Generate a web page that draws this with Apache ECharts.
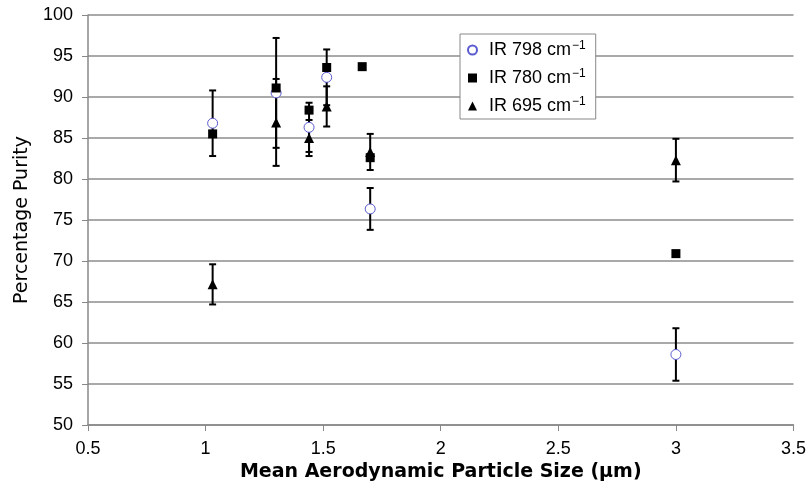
<!DOCTYPE html>
<html>
<head>
    <meta charset="UTF-8">
    <title>Percentage Purity</title>
    <script src="https://cdn.jsdelivr.net/npm/echarts@6/dist/echarts.min.js"></script>
    <style>
        html, body { margin: 0; padding: 0; background: #fff; }
        #main { width: 809px; height: 493px; }
    </style>
</head>
<body>
    <div id="main"></div>
    <script>
        // values
        var circleX = [1.03, 1.30, 1.44, 1.515, 1.70, 3.0];
        var circleY = [86.8, 90.5, 86.3, 92.4, 76.35, 58.6];
        var circleErr = [4.0, 6.7, 3.0, 3.4, 2.55, 3.2];

        var squareX = [1.03, 1.30, 1.44, 1.515, 1.666, 1.70, 3.0];
        var squareY = [85.5, 91.1, 88.4, 93.6, 93.7, 82.6, 70.9];

        var triX = [1.03, 1.30, 1.44, 1.515, 1.70, 3.0];
        var triY = [67.15, 86.9, 85.0, 88.85, 83.3, 82.3];
        var triErr = [2.45, 5.3, 2.2, 2.45, 2.2, 2.6];

        var seriesNames = ['IR 798 cm-1', 'IR 780 cm-1', 'IR 695 cm-1'];

        function pairs(xs, ys) {
            return xs.map(function (x, i) { return [x, ys[i]]; });
        }
        function errRows(xs, ys, es) {
            return xs.map(function (x, i) { return [x, ys[i] - es[i], ys[i] + es[i]]; });
        }

        function renderErr(params, api) {
            var lo = api.coord([api.value(0), api.value(1)]);
            var hi = api.coord([api.value(0), api.value(2)]);
            var w = 3.5;
            var st = { stroke: '#000', lineWidth: 2 };
            return {
                type: 'group',
                children: [
                    { type: 'line', shape: { x1: lo[0], y1: lo[1], x2: hi[0], y2: hi[1] }, style: st },
                    { type: 'line', shape: { x1: lo[0] - w, y1: lo[1], x2: lo[0] + w, y2: lo[1] }, style: st },
                    { type: 'line', shape: { x1: hi[0] - w, y1: hi[1], x2: hi[0] + w, y2: hi[1] }, style: st }
                ]
            };
        }

        var chart = echarts.init(document.getElementById('main'));
        var font = '"Liberation Sans", Arial, sans-serif';
        var wide = '"DejaVu Sans", sans-serif';

        var option = {
            animation: false,
            backgroundColor: '#fff',
            textStyle: { fontFamily: font },
            grid: { left: 88, right: 14, top: 15, bottom: 68 },
            legend: {
                orient: 'vertical',
                left: 460,
                top: 34,
                width: 139,
                backgroundColor: '#fff',
                borderColor: '#888',
                borderWidth: 1,
                borderRadius: 0,
                padding: [6, 10, 2, 7],
                itemGap: 7,
                itemWidth: 9,
                itemHeight: 9,
                textStyle: {
                    fontFamily: font,
                    fontSize: 18,
                    color: '#000',
                    rich: {
                        t: { fontFamily: font, fontSize: 18, lineHeight: 20, color: '#000', padding: [0, 0, 0, 7] },
                        sup: { fontFamily: font, fontSize: 12, lineHeight: 20, color: '#000', verticalAlign: 'top', padding: [0, 0, 9, 1] }
                    }
                },
                formatter: function (name) {
                    return '{t|' + name.replace(' cm-1', ' cm') + '}{sup|−1}';
                },
                data: [
                    { name: seriesNames[0], icon: 'circle' },
                    { name: seriesNames[1], icon: 'rect' },
                    { name: seriesNames[2], icon: 'triangle' }
                ]
            },
            xAxis: {
                type: 'value',
                min: 0.5,
                max: 3.5,
                interval: 0.5,
                name: 'Mean Aerodynamic Particle Size (μm)',
                nameLocation: 'middle',
                nameGap: 34,
                nameTextStyle: { fontFamily: wide, fontSize: 19, fontWeight: 'bold', color: '#000' },
                axisLine: { lineStyle: { color: '#888', width: 1.5 } },
                axisTick: { show: true, length: 6, lineStyle: { color: '#888' } },
                axisLabel: { fontFamily: font, fontSize: 18, color: '#000', margin: 15 },
                splitLine: { show: false }
            },
            yAxis: {
                type: 'value',
                min: 50,
                max: 100,
                interval: 5,
                name: 'Percentage Purity',
                nameLocation: 'middle',
                nameGap: 56,
                nameTextStyle: { fontFamily: wide, fontSize: 19, color: '#000' },
                axisLine: { show: true, lineStyle: { color: '#888', width: 1.5 } },
                axisTick: { show: true, length: 6, lineStyle: { color: '#888' } },
                axisLabel: { fontFamily: font, fontSize: 18, color: '#000', margin: 15 },
                splitLine: { show: true, lineStyle: { color: '#8c8c8c', width: 1.5 } }
            },
            series: [
                {
                    type: 'custom',
                    name: 'err798',
                    renderItem: renderErr,
                    data: errRows(circleX, circleY, circleErr),
                    encode: { x: 0, y: [1, 2] },
                    z: 1,
                    silent: true
                },
                {
                    type: 'custom',
                    name: 'err695',
                    renderItem: renderErr,
                    data: errRows(triX, triY, triErr),
                    encode: { x: 0, y: [1, 2] },
                    z: 1,
                    silent: true
                },
                {
                    name: seriesNames[0],
                    type: 'scatter',
                    symbol: 'circle',
                    symbolSize: 10,
                    itemStyle: { color: '#fff', borderColor: '#5b5bd0', borderWidth: 1, opacity: 1 },
                    data: pairs(circleX, circleY),
                    z: 2
                },
                {
                    name: seriesNames[1],
                    type: 'scatter',
                    symbol: 'rect',
                    symbolSize: 9,
                    itemStyle: { color: '#000', opacity: 1 },
                    data: pairs(squareX, squareY),
                    z: 3
                },
                {
                    name: seriesNames[2],
                    type: 'scatter',
                    symbol: 'triangle',
                    symbolSize: 10,
                    itemStyle: { color: '#000', opacity: 1 },
                    data: pairs(triX, triY),
                    z: 4
                }
            ]
        };
        chart.setOption(option);
    </script>
</body>
</html>
